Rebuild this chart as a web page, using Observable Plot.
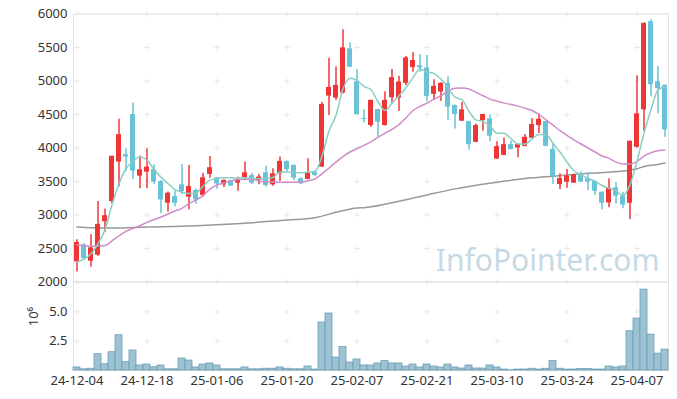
<!DOCTYPE html>
<html><head><meta charset="utf-8">
<script src="https://cdn.jsdelivr.net/npm/d3@7"></script>
<script src="https://cdn.jsdelivr.net/npm/@observablehq/plot@0.6"></script>
<style>
body{margin:0;background:#fff;}
#chart{position:relative;width:677px;height:399px;overflow:hidden;}
#chart svg{position:absolute;left:0;}
</style>
</head><body><div id="chart"></div>
<script>
const dates = ["24-12-04","24-12-05","24-12-06","24-12-09","24-12-10","24-12-11","24-12-12","24-12-13","24-12-16","24-12-17","24-12-18","24-12-19","24-12-20","24-12-23","24-12-24","24-12-26","24-12-27","24-12-30","25-01-02","25-01-03","25-01-06","25-01-07","25-01-08","25-01-09","25-01-10","25-01-13","25-01-14","25-01-15","25-01-16","25-01-17","25-01-20","25-01-21","25-01-22","25-01-23","25-01-24","25-01-31","25-02-03","25-02-04","25-02-05","25-02-06","25-02-07","25-02-10","25-02-11","25-02-12","25-02-13","25-02-14","25-02-17","25-02-18","25-02-19","25-02-20","25-02-21","25-02-24","25-02-25","25-02-26","25-02-27","25-02-28","25-03-04","25-03-05","25-03-06","25-03-07","25-03-10","25-03-11","25-03-12","25-03-13","25-03-14","25-03-17","25-03-18","25-03-19","25-03-20","25-03-21","25-03-24","25-03-25","25-03-26","25-03-27","25-03-28","25-03-31","25-04-01","25-04-02","25-04-03","25-04-04","25-04-07","25-04-08","25-04-09","25-04-10","25-04-11"];
const open  = [2300,2555,2310,2400,2900,3200,3790,3900,4500,3580,3640,3675,3500,3175,3275,3450,3265,3365,3290,3605,3555,3450,3510,3475,3560,3590,3515,3630,3450,3615,3800,3740,3540,3530,3640,3715,4775,4745,4820,5480,4990,4440,4335,4575,4335,4750,4745,4965,5200,5230,5195,4800,4835,4965,4635,4400,4395,4085,4410,4435,3835,3890,4050,4000,4025,4145,4335,4395,3980,3455,3490,3475,3615,3540,3500,3340,3180,3405,3275,3175,4010,4570,5885,4990,4935];
const high  = [2630,2570,2705,3200,3090,3880,4430,3990,4670,3880,3985,3750,3510,3345,3360,3755,3740,3390,3625,3875,3560,3525,3520,3565,3790,3625,3605,3730,3690,3865,3805,3745,3560,3840,3655,4680,5340,5210,5765,5570,5170,4570,4715,4580,4840,5170,5070,5365,5420,5395,5380,5020,4975,5065,4640,4680,4400,4360,4505,4495,4095,4150,4100,4055,4200,4435,4510,4400,4065,3615,3680,3605,3640,3630,3505,3345,3540,3480,3340,4105,5080,5865,5915,5215,4940];
const low   = [2150,2320,2220,2385,2740,3165,3420,3645,3525,3390,3390,3450,3020,3045,3120,3305,3080,3160,3265,3550,3385,3410,3425,3355,3530,3455,3450,3415,3430,3500,3640,3515,3450,3525,3575,3710,4485,4710,4805,5200,4495,4375,4310,4160,4330,4660,4545,4930,5130,5130,4690,4710,4695,4410,4285,4395,3965,4080,4250,4095,3830,3885,3970,3855,4020,4140,4215,4020,3455,3380,3400,3470,3485,3365,3290,3080,3110,3165,3095,2930,4000,4250,4760,4510,4160];
const close = [2590,2350,2510,2860,2990,3875,4200,3865,3655,3675,3715,3490,3225,3325,3175,3350,3425,3225,3555,3705,3465,3515,3430,3525,3630,3475,3565,3440,3615,3800,3675,3550,3465,3630,3590,4650,4905,4935,5495,5205,4500,4425,4710,4385,4710,5050,4985,5345,5305,5195,4770,4920,4965,4610,4500,4570,4050,4335,4500,4175,4020,4050,3978,4050,4160,4350,4430,4025,3575,3545,3580,3600,3490,3490,3355,3175,3405,3280,3150,4100,4510,5860,4945,4885,4270];
const volume = [0.26,0.10,0.15,1.39,0.54,1.56,3.01,0.71,1.71,0.43,0.51,0.28,0.43,0.10,0.10,1.02,0.85,0.26,0.51,0.60,0.43,0.10,0.10,0.10,0.26,0.10,0.10,0.15,0.15,0.26,0.15,0.10,0.10,0.34,0.08,4.09,4.86,1.11,2.01,0.68,0.94,0.43,0.43,0.60,0.80,0.60,0.60,0.34,0.51,0.26,0.51,0.34,0.26,0.51,0.26,0.17,0.43,0.17,0.17,0.43,0.26,0.08,0.02,0.08,0.08,0.15,0.08,0.15,0.80,0.15,0.08,0.08,0.12,0.12,0.08,0.08,0.34,0.26,0.34,3.35,4.43,6.90,3.06,1.44,1.78];
const ma5 = [2300,2340,2420,2570,2780,3150,3470,3690,3800,3870,3820,3680,3565,3470,3380,3340,3320,3330,3430,3520,3545,3555,3555,3550,3555,3545,3540,3545,3560,3640,3640,3635,3630,3640,3650,3880,4250,4490,4880,5040,5010,4920,4870,4690,4560,4670,4780,4900,5050,5180,5135,5110,5030,4900,4760,4720,4550,4420,4395,4330,4220,4220,4140,4060,4060,4135,4200,4200,4070,3940,3790,3660,3600,3545,3505,3440,3400,3360,3290,3450,3800,4220,4570,4870,4915];
const ma20 = [2555,2540,2535,2540,2545,2615,2690,2755,2800,2840,2890,2930,2970,3015,3060,3100,3170,3225,3290,3385,3450,3480,3510,3530,3535,3535,3505,3500,3495,3490,3490,3490,3490,3510,3540,3615,3700,3790,3870,3940,3990,4040,4090,4160,4220,4280,4350,4450,4560,4620,4670,4730,4780,4850,4890,4895,4880,4830,4780,4730,4700,4670,4650,4625,4595,4560,4500,4420,4340,4260,4190,4120,4060,4000,3940,3880,3845,3790,3760,3760,3800,3880,3930,3960,3970];
const maLongDates  = ["24-12-04","24-12-06","24-12-11","24-12-18","24-12-26","25-01-06","25-01-13","25-01-20","25-01-24","25-02-04","25-02-07","25-02-10","25-02-17","25-02-21","25-02-27","25-03-10","25-03-17","25-03-20","25-03-27","25-04-03","25-04-07","25-04-08","25-04-10","25-04-11"];
const maLongValues = [2820,2808,2805,2822,2832,2855,2885,2925,2960,3040,3105,3110,3205,3300,3390,3490,3555,3580,3622,3655,3690,3724,3754,3775];
const priceTicks = [2000,2500,3000,3500,4000,4500,5000,5500,6000];
const volumeTicks = [2.5,5.0];
const xTickLabels = ["24-12-04","24-12-18","25-01-06","25-01-20","25-02-07","25-02-21","25-03-10","25-03-24","25-04-07"];

const UP = "#ef3636", DOWN = "#68c3d9";
const candles = dates.map((d, i) => ({date: d, open: open[i], high: high[i], low: low[i], close: close[i], up: close[i] >= open[i]}));
const line5 = dates.map((d, i) => ({date: d, v: ma5[i]}));
const line20 = dates.map((d, i) => ({date: d, v: ma20[i]}));
const lineLong = maLongDates.map((d, i) => ({date: d, v: maLongValues[i]}));
const vols = dates.map((d, i) => ({date: d, v: volume[i]}));
const font = "'Noto Sans', 'Open Sans', sans-serif";

const price = Plot.plot({
  width: 677, height: 290,
  marginLeft: 73, marginRight: 9, marginTop: 13.5, marginBottom: 8.5,
  style: {background: "transparent", fontFamily: font, fontSize: "13px", color: "#333", overflow: "visible"},
  x: {type: "band", domain: dates, padding: 0, axis: null},
  y: {domain: [2000, 6000], ticks: priceTicks, tickFormat: d3.format("d"), tickSize: 0, tickPadding: 6, label: null},
  marks: [
    Plot.frame({stroke: "#e2e2e2"}),
    Plot.dot(d3.cross(xTickLabels, priceTicks), {x: d => d[0], y: d => d[1], symbol: "plus", r: 2, stroke: "#e8e8e8", strokeWidth: 1}),
    Plot.text(["InfoPointer.com"], {frameAnchor: "bottom-right", dx: -9, dy: -11.5, textAnchor: "end", lineAnchor: "bottom", fontSize: 30, fill: "#c6d9e4"}),
    Plot.line(lineLong, {x: "date", y: "v", stroke: "#999", strokeWidth: 1.5, curve: "monotone-x"}),
    Plot.ruleX(candles, {x: "date", y1: "low", y2: "high", stroke: d => d.up ? UP : DOWN, strokeWidth: 1.5}),
    Plot.barY(candles, {x: "date", y1: "open", y2: "close", fill: d => d.up ? UP : DOWN, insetLeft: 1, insetRight: 1}),
    Plot.line(line20, {x: "date", y: "v", stroke: "#cf8cc9", strokeWidth: 1.5, curve: "monotone-x"}),
    Plot.line(line5, {x: "date", y: "v", stroke: "#8acec3", strokeWidth: 1.5, curve: "monotone-x"})
  ]
});
price.style.top = "0px";

const vol = Plot.plot({
  width: 677, height: 118,
  marginLeft: 73, marginRight: 9, marginTop: 0.5, marginBottom: 29,
  style: {background: "transparent", fontFamily: font, fontSize: "13px", color: "#333", overflow: "visible"},
  x: {type: "band", domain: dates, padding: 0, ticks: xTickLabels, tickSize: 0, tickPadding: 5, label: null},
  y: {domain: [0, 7.55], ticks: volumeTicks, tickFormat: d3.format(".1f"), tickSize: 0, tickPadding: 6, label: null},
  marks: [
    Plot.frame({stroke: "#e2e2e2"}),
    Plot.dot(d3.cross(xTickLabels, volumeTicks), {x: d => d[0], y: d => d[1], symbol: "plus", r: 2, stroke: "#e8e8e8", strokeWidth: 1}),
    Plot.barY(vols, {x: "date", y: "v", fill: "#9dc2d3", stroke: "#6c9fb6", strokeWidth: 0.8, inset: 0}),
    Plot.text(["10⁶"], {frameAnchor: "left", dx: -40, rotate: -90, fontSize: 13, fill: "#333"})
  ]
});
vol.style.top = "281px";

const chart = document.getElementById("chart");
chart.appendChild(price);
chart.appendChild(vol);
</script>
</body></html>
